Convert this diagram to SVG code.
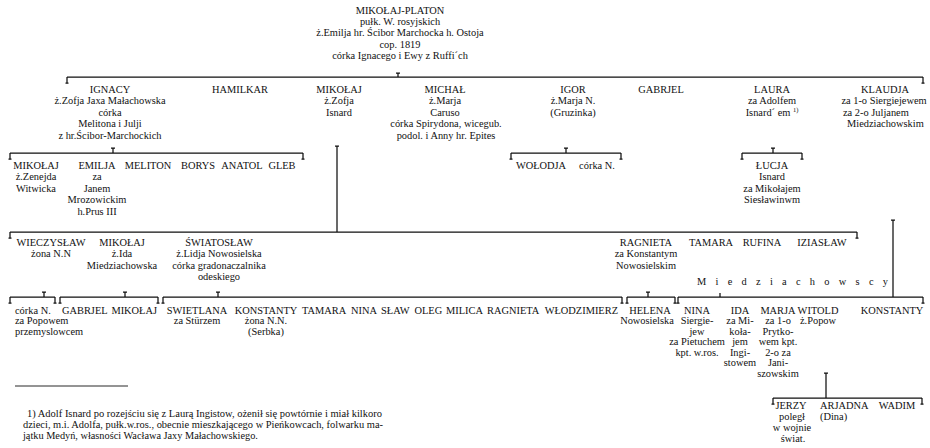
<svg xmlns="http://www.w3.org/2000/svg" width="930" height="448" viewBox="0 0 930 448">
  <style>
    text { font-family: "Liberation Serif", "Times New Roman", serif; font-size: 10.4px; fill: #111; }
    .c { text-anchor: middle; }
    .e { text-anchor: end; }
    .fn { font-size: 10.3px; }
    .ln { stroke: #111; stroke-width: 1.25; fill: none; }
  </style>
  <rect width="930" height="448" fill="#fff"/>

  <!-- connectors: sibling bars, end ticks, descent marks -->
  <g id="connectors" class="ln">
    <!-- generation I -->
    <path d="M67 77H923 M67 77v6 M65.5 83h3 M923 77v6 M921.5 83h3 M398 77v-4 M396 73h4"/>
    <!-- children of Ignacy -->
    <path d="M10 153H303 M10 153v6 M8.5 159h3 M303 153v6 M301.5 159h3 M113 153v-5 M111 148h4"/>
    <!-- children of Igor -->
    <path d="M511 153H621 M511 153v6 M509.5 159h3 M621 153v6 M619.5 159h3 M566 153v-5 M564 148h4"/>
    <!-- children of Laura -->
    <path d="M742 153H802 M742 153v6 M740.5 159h3 M802 153v6 M800.5 159h3 M773 153v-5 M771 148h4"/>
    <!-- children of Mikołaj -->
    <path d="M337 146V232 M335 146h4"/>
    <path d="M10 232H857 M10 232v6 M8.5 238h3 M857 232v6 M855.5 238h3"/>
    <!-- line of Klaudja -->
    <path d="M893 220V297 M891 220h4"/>
    <!-- generation IV -->
    <path d="M10 297H55 M10 297v6 M8.5 303h3 M55 297v6 M53.5 303h3 M44 297v-5 M42 292h4"/>
    <path d="M60 297H158 M60 297v6 M58.5 303h3 M158 297v6 M156.5 303h3 M125 297v-5 M123 292h4"/>
    <path d="M163 297H622 M163 297v6 M161.5 303h3 M622 297v6 M620.5 303h3 M218 297v-5 M216 292h4"/>
    <path d="M627 297H675 M627 297v6 M625.5 303h3 M675 297v6 M673.5 303h3 M648 297v-5 M646 292h4"/>
    <path d="M678 297H923 M678 297v6 M676.5 303h3 M923 297v6 M921.5 303h3 M720 297v-4"/>
    <!-- children of Marja -->
    <path d="M826 373V398 M824 373h4"/>
    <path d="M773 398H922 M773 398v6 M771.5 404h3 M922 398v6 M920.5 404h3"/>
  </g>

  <!-- founder -->
  <g id="mikolaj-platon" class="c">
    <text x="400" y="14">MIKOŁAJ-PLATON</text>
    <text x="400" y="25.2">pułk. W. rosyjskich</text>
    <text x="400" y="36.4">ż.Emilja hr. Ścibor Marchocka h. Ostoja</text>
    <text x="400" y="47.6">cop. 1819</text>
    <text x="400" y="58.8">córka Ignacego i Ewy z Ruffi´ch</text>
  </g>

  <!-- generation II -->
  <g id="ignacy" class="c">
    <text x="110" y="92.5">IGNACY</text>
    <text x="110" y="104">ż.Zofja Jaxa Małachowska</text>
    <text x="110" y="115.5">córka</text>
    <text x="110" y="127">Melitona i Julji</text>
    <text x="110" y="138.5">z hr.Ścibor-Marchockich</text>
  </g>
  <g id="hamilkar" class="c"><text x="240" y="92.5">HAMILKAR</text></g>
  <g id="mikolaj" class="c">
    <text x="339" y="92.5">MIKOŁAJ</text>
    <text x="339" y="104">ż.Zofja</text>
    <text x="339" y="115.5">Isnard</text>
  </g>
  <g id="michal" class="c">
    <text x="445" y="92.5">MICHAŁ</text>
    <text x="445" y="104">ż.Marja</text>
    <text x="445" y="115.5">Caruso</text>
    <text x="446" y="127">córka Spirydona, wicegub.</text>
    <text x="446" y="138.5">podol. i Anny hr. Epites</text>
  </g>
  <g id="igor" class="c">
    <text x="573" y="92.5">IGOR</text>
    <text x="573" y="104">ż.Marja N.</text>
    <text x="573" y="115.5">(Gruzinka)</text>
  </g>
  <g id="gabrjel" class="c"><text x="661" y="92.5">GABRJEL</text></g>
  <g id="laura" class="c">
    <text x="772" y="92.5">LAURA</text>
    <text x="772" y="104">za Adolfem</text>
    <text x="772" y="115.5">Isnard´ em <tspan font-size="6.5" dy="-4">1)</tspan></text>
  </g>
  <g id="klaudja">
    <text x="885" y="92.5" class="c">KLAUDJA</text>
    <text x="884" y="104" class="c">za 1-o Siergiejewem</text>
    <text x="843" y="115.5">za 2-o Juljanem</text>
    <text x="847" y="127">Miedziachowskim</text>
  </g>

  <!-- generation III: children of Ignacy -->
  <g id="ignacy-mikolaj" class="c">
    <text x="36" y="168.5">MIKOŁAJ</text>
    <text x="36" y="180">ż.Zenejda</text>
    <text x="36" y="191.5">Witwicka</text>
  </g>
  <g id="emilja" class="c">
    <text x="97" y="168.5">EMILJA</text>
    <text x="97" y="180">za</text>
    <text x="97" y="191.5">Janem</text>
    <text x="97" y="203">Mrozowickim</text>
    <text x="97" y="214.5">h.Prus III</text>
  </g>
  <g id="meliton" class="c"><text x="148" y="168.5">MELITON</text></g>
  <g id="borys" class="c"><text x="198" y="168.5">BORYS</text></g>
  <g id="anatol" class="c"><text x="242" y="168.5">ANATOL</text></g>
  <g id="gleb" class="c"><text x="282" y="168.5">GLEB</text></g>

  <!-- generation III: children of Igor and Laura -->
  <g id="wolodja" class="c"><text x="541" y="168.5">WOŁODJA</text></g>
  <g id="igor-corka" class="c"><text x="597" y="168.5">córka N.</text></g>
  <g id="lucja" class="c">
    <text x="772" y="168.5">ŁUCJA</text>
    <text x="772" y="180">Isnard</text>
    <text x="772" y="191.5">za Mikołajem</text>
    <text x="772" y="203">Siesławinwm</text>
  </g>

  <!-- generation III: children of Mikołaj -->
  <g id="wieczyslaw" class="c">
    <text x="51" y="245.5">WIECZYSŁAW</text>
    <text x="51" y="257">żona N.N</text>
  </g>
  <g id="mikolaj-ida" class="c">
    <text x="122" y="245.5">MIKOŁAJ</text>
    <text x="122" y="257">ż.Ida</text>
    <text x="122" y="268.5">Miedziachowska</text>
  </g>
  <g id="swiatoslaw" class="c">
    <text x="219" y="245.5">ŚWIATOSŁAW</text>
    <text x="219" y="257">ż.Lidja Nowosielska</text>
    <text x="219" y="268.5">córka gradonaczalnika</text>
    <text x="219" y="280">odeskiego</text>
  </g>
  <g id="ragnieta" class="c">
    <text x="646" y="245.5">RAGNIETA</text>
    <text x="646" y="257">za Konstantym</text>
    <text x="646" y="268.5">Nowosielskim</text>
  </g>
  <g id="tamara" class="c"><text x="711" y="245.5">TAMARA</text></g>
  <g id="rufina" class="c"><text x="762" y="245.5">RUFINA</text></g>
  <g id="iziaslaw" class="c"><text x="822" y="245.5">IZIASŁAW</text></g>

  <!-- generation IV -->
  <g id="wieczyslaw-corka">
    <text x="15" y="313.5">córka N.</text>
    <text x="15" y="324">za Popowem</text>
    <text x="15" y="334.5">przemyslowcem</text>
  </g>
  <g id="gabrjel-ida"><text x="62" y="313.5">GABRJEL</text></g>
  <g id="mikolaj-ida-syn"><text x="157" y="313.5" class="e">MIKOŁAJ</text></g>
  <g id="swietlana" class="c">
    <text x="197" y="313.5">SWIETLANA</text>
    <text x="197" y="324">za Stürzem</text>
  </g>
  <g id="konstanty-serbka" class="c">
    <text x="266" y="313.5">KONSTANTY</text>
    <text x="266" y="324">żona N.N.</text>
    <text x="266" y="334.5">(Serbka)</text>
  </g>
  <g id="tamara-2"><text x="302" y="313.5">TAMARA</text></g>
  <g id="nina-2"><text x="351" y="313.5">NINA</text></g>
  <g id="slaw"><text x="381" y="313.5">SŁAW</text></g>
  <g id="oleg"><text x="414.5" y="313.5">OLEG</text></g>
  <g id="milica"><text x="446" y="313.5">MILICA</text></g>
  <g id="ragnieta-2"><text x="487" y="313.5">RAGNIETA</text></g>
  <g id="wlodzimierz"><text x="618" y="313.5" class="e">WŁODZIMIERZ</text></g>
  <g id="helena" class="c">
    <text x="650" y="313.5">HELENA</text>
    <text x="647" y="324">Nowosielska</text>
  </g>

  <!-- Miedziachowscy: children of Klaudja -->
  <text x="697" y="284.5" textLength="191" lengthAdjust="spacing">Miedziachowscy</text>
  <g id="nina" class="c">
    <text x="697" y="313.5">NINA</text>
    <text x="697" y="324">Siergie-</text>
    <text x="697" y="334.5">jew</text>
    <text x="697" y="345">za Pietuchem</text>
    <text x="697" y="355.5">kpt. w.ros.</text>
  </g>
  <g id="ida" class="c">
    <text x="740" y="313.5">IDA</text>
    <text x="740" y="324">za Mi-</text>
    <text x="740" y="334.5">koła-</text>
    <text x="740" y="345">jem</text>
    <text x="740" y="355.5">Ingi-</text>
    <text x="740" y="366">stowem</text>
  </g>
  <g id="marja" class="c">
    <text x="778" y="313.5">MARJA</text>
    <text x="778" y="324">za 1-o</text>
    <text x="778" y="334.5">Prytko-</text>
    <text x="778" y="345">wem kpt.</text>
    <text x="778" y="355.5">2-o za</text>
    <text x="778" y="366">Jani-</text>
    <text x="778" y="376.5">szowskim</text>
  </g>
  <g id="witold" class="c">
    <text x="818" y="313.5">WITOLD</text>
    <text x="818" y="324">ż.Popow</text>
  </g>
  <g id="konstanty" class="c"><text x="892" y="313.5">KONSTANTY</text></g>

  <!-- generation V: children of Marja -->
  <g id="jerzy" class="c">
    <text x="791" y="408.5">JERZY</text>
    <text x="792" y="419.5">poległ</text>
    <text x="792" y="430.5">w wojnie</text>
    <text x="793" y="441.5">świat.</text>
  </g>
  <g id="arjadna">
    <text x="820" y="408.5">ARJADNA</text>
    <text x="820" y="419.5">(Dina)</text>
  </g>
  <g id="wadim" class="c"><text x="897" y="408.5">WADIM</text></g>

  <!-- footnote -->
  <g id="footnote">
    <path d="M15 386H128" stroke="#111" stroke-width="0.9"/>
    <text class="fn" x="27" y="417" textLength="355" lengthAdjust="spacingAndGlyphs">1) Adolf Isnard po rozejściu się z Laurą Ingistow, ożenił się powtórnie i miał kilkoro</text>
    <text class="fn" x="23" y="428" textLength="360" lengthAdjust="spacingAndGlyphs">dzieci, m.i. Adolfa, pułk.w.ros., obecnie mieszkającego w Pieńkowcach, folwarku ma-</text>
    <text class="fn" x="23" y="439">jątku Medyń, własności Wacława Jaxy Małachowskiego.</text>
  </g>
</svg>
